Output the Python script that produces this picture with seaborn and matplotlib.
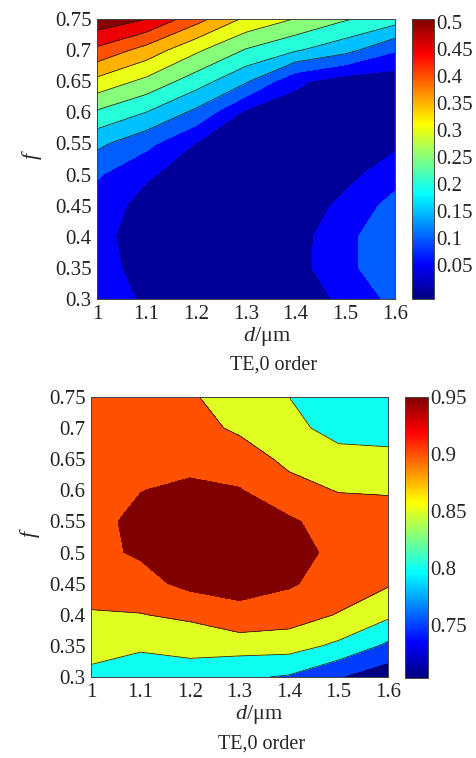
import numpy as np
import matplotlib
matplotlib.use("Agg")
import matplotlib.pyplot as plt
import matplotlib.colors as mcolors
import matplotlib.cm as cm
import seaborn as sns

# grating period d (um) and fill factor f sampled on a regular grid
d_um = [1.0, 1.1, 1.2, 1.3, 1.4, 1.5, 1.6]
f_fill = [0.30, 0.35, 0.40, 0.45, 0.50, 0.55, 0.60, 0.65, 0.70, 0.75]

# diffraction efficiency, rows follow f_fill (0.30 -> 0.75), columns follow d_um
eff_upper = [
    [0.067, 0.045, 0.020, 0.012, 0.020, 0.062, 0.114],
    [0.068, 0.032, 0.015, 0.010, 0.030, 0.090, 0.128],
    [0.062, 0.030, 0.015, 0.010, 0.028, 0.090, 0.128],
    [0.072, 0.035, 0.020, 0.010, 0.020, 0.063, 0.119],
    [0.106, 0.055, 0.030, 0.015, 0.012, 0.035, 0.078],
    [0.162, 0.114, 0.048, 0.025, 0.015, 0.020, 0.040],
    [0.243, 0.199, 0.138, 0.040, 0.025, 0.025, 0.022],
    [0.336, 0.287, 0.224, 0.157, 0.060, 0.025, 0.020],
    [0.439, 0.380, 0.309, 0.246, 0.205, 0.167, 0.105],
    [0.535, 0.500, 0.419, 0.340, 0.298, 0.255, 0.223],
]
eff_lower = [
    [0.840, 0.830, 0.838, 0.808, 0.795, 0.752, 0.715],
    [0.865, 0.855, 0.858, 0.870, 0.870, 0.840, 0.790],
    [0.895, 0.898, 0.912, 0.940, 0.925, 0.897, 0.860],
    [0.925, 0.935, 0.962, 0.962, 0.955, 0.930, 0.905],
    [0.940, 0.955, 0.970, 0.970, 0.965, 0.940, 0.915],
    [0.938, 0.960, 0.970, 0.968, 0.958, 0.925, 0.910],
    [0.935, 0.949, 0.960, 0.953, 0.915, 0.898, 0.898],
    [0.925, 0.930, 0.935, 0.922, 0.890, 0.865, 0.860],
    [0.915, 0.920, 0.915, 0.893, 0.862, 0.835, 0.835],
    [0.912, 0.908, 0.905, 0.879, 0.850, 0.820, 0.815],
]

levels_upper = [0.05, 0.10, 0.15, 0.20, 0.25, 0.30, 0.35, 0.40, 0.45, 0.50]
levels_lower = [0.75, 0.80, 0.85, 0.90, 0.95]
# iso-lines that stand out against the fills
lines_upper = [0.15, 0.20, 0.25, 0.30, 0.35, 0.40, 0.45, 0.50]
lines_lower = [0.80, 0.85, 0.90]

x_ticks = [1.0, 1.1, 1.2, 1.3, 1.4, 1.5, 1.6]
x_labels = ["1", "1.1", "1.2", "1.3", "1.4", "1.5", "1.6"]
y_ticks = [0.30, 0.35, 0.40, 0.45, 0.50, 0.55, 0.60, 0.65, 0.70, 0.75]
y_labels = ["0.3", "0.35", "0.4", "0.45", "0.5", "0.55", "0.6", "0.65", "0.7", "0.75"]
cb_ticks_upper = [0.05, 0.10, 0.15, 0.20, 0.25, 0.30, 0.35, 0.40, 0.45, 0.50]
cb_labels_upper = ["0.05", "0.1", "0.15", "0.2", "0.25", "0.3", "0.35", "0.4", "0.45", "0.5"]
cb_ticks_lower = [0.75, 0.80, 0.85, 0.90, 0.95]
cb_labels_lower = ["0.75", "0.8", "0.85", "0.9", "0.95"]

caption = "TE,0 order"

sns.set_style("ticks")
plt.rcParams["font.family"] = ["Liberation Serif", "DejaVu Serif"]
plt.rcParams["mathtext.fontset"] = "custom"
plt.rcParams["mathtext.rm"] = "Liberation Serif"
plt.rcParams["mathtext.it"] = "Liberation Serif:italic"

# classic jet: piecewise linear through nine evenly spaced anchors
jet = sns.blend_palette(
    [(0, 0, 0.5), (0, 0, 1), (0, 0.5, 1), (0, 1, 1), (0.5, 1, 0.5),
     (1, 1, 0), (1, 0.5, 0), (1, 0, 0), (0.5, 0, 0)],
    n_colors=256, as_cmap=True)

W, H = 476, 758
fig = plt.figure(figsize=(W / 100, H / 100), dpi=100)


def rect(x0, y0, x1, y1):
    return [x0 / W, 1 - y1 / H, (x1 - x0) / W, (y1 - y0) / H]


FS = 15


def panel(ax_box, cb_box, z, levels, lines, vmin, vmax, base, cb_ticks,
          cb_labels, xlab_pos, cap_pos, ylab_pos):
    ax = fig.add_axes(rect(*ax_box))
    norm = mcolors.Normalize(vmin=vmin, vmax=vmax)
    z = np.asarray(z)
    fill_levels = [-10.0] + list(levels) + [10.0]
    fill_colors = [jet(norm(base))] + [jet(norm(v)) for v in levels]
    ax.contourf(d_um, f_fill, z, levels=fill_levels, colors=fill_colors)
    ax.contour(d_um, f_fill, z, levels=lines, colors="#1a1a1a", linewidths=0.55)
    ax.set_xlim(1.0, 1.6)
    ax.set_ylim(0.3, 0.75)
    ax.set_xticks(x_ticks)
    ax.set_xticklabels(x_labels)
    ax.set_yticks(y_ticks)
    ax.set_yticklabels(y_labels)
    ax.tick_params(direction="in", top=True, right=True, length=3, width=0.6,
                   labelsize=FS, pad=4, colors="#222222")
    for s in ax.spines.values():
        s.set_linewidth(0.7)
        s.set_color("#444444")

    cax = fig.add_axes(rect(*cb_box))
    cb = fig.colorbar(cm.ScalarMappable(norm=norm, cmap=jet), cax=cax)
    cb.set_ticks(cb_ticks)
    cb.set_ticklabels(cb_labels)
    cax.tick_params(direction="in", left=True, right=True, length=2.5,
                    width=0.6, labelsize=FS, pad=1.5)
    cb.outline.set_linewidth(0.7)
    cb.outline.set_edgecolor("#444444")

    fig.text(xlab_pos[0] / W, 1 - xlab_pos[1] / H, "$d$/\u03bcm",
             fontsize=FS + 1, ha="center", va="center")
    fig.text(cap_pos[0] / W, 1 - cap_pos[1] / H, caption,
             fontsize=FS - 0.5, ha="center", va="center")
    fig.text(ylab_pos[0] / W, 1 - ylab_pos[1] / H, "$f$",
             fontsize=FS + 1, ha="center", va="center", rotation=90)
    return ax


panel((97, 19, 395, 299), (412, 19, 434, 299), eff_upper, levels_upper,
      lines_upper, -0.0135, 0.506, 0.0, cb_ticks_upper, cb_labels_upper,
      (267, 337), (274, 365), (32, 155))
panel((91, 397, 388, 677), (405, 397, 428, 678), eff_lower, levels_lower,
      lines_lower, 0.704, 0.95, 0.704, cb_ticks_lower, cb_labels_lower,
      (259, 715), (262, 744), (30, 533))

fig.savefig("out.png", dpi=100)
